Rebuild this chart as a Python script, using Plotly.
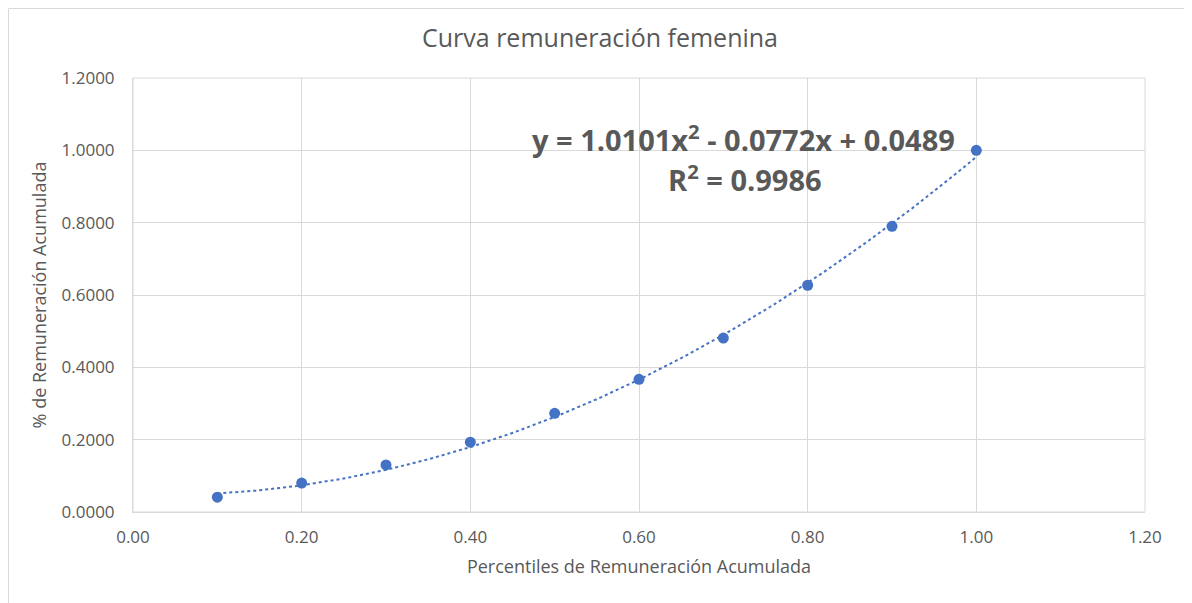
import numpy as np
import plotly.graph_objects as go

percentiles = [0.1, 0.2, 0.3, 0.4, 0.5, 0.6, 0.7, 0.8, 0.9, 1.0]
remuneracion = [0.041, 0.080, 0.130, 0.193, 0.273, 0.367, 0.481, 0.627, 0.790, 1.000]
trend_coefs = [1.0101, -0.0772, 0.0489]  # displayed polynomial trendline
x_ticks = [0.0, 0.2, 0.4, 0.6, 0.8, 1.0, 1.2]
y_ticks = [0.0, 0.2, 0.4, 0.6, 0.8, 1.0, 1.2]

blue = "#4472C4"
gray_txt = "#595959"
grid = "#D9D9D9"
font = "Open Sans"

xt = np.linspace(min(percentiles), max(percentiles), 200)
yt = np.polyval(trend_coefs, xt)

fig = go.Figure()
fig.add_trace(go.Scatter(x=xt, y=yt, mode="lines",
                         line=dict(color=blue, width=2, dash="dot"),
                         hoverinfo="skip", showlegend=False))
fig.add_trace(go.Scatter(x=percentiles, y=remuneracion, mode="markers",
                         marker=dict(color=blue, size=11),
                         showlegend=False))

fig.update_layout(
    width=1184, height=595,
    paper_bgcolor="white", plot_bgcolor="white",
    margin=dict(l=125, r=47, t=70, b=91),
    font=dict(family=font, color=gray_txt),
    title=dict(text="Curva remuneración femenina", x=0.5, xanchor="center",
               y=1 - 30 / 595, yanchor="middle",
               font=dict(size=25, color=gray_txt, family=font)),
    xaxis=dict(range=[0, 1.2], tickvals=x_ticks,
               ticktext=[f"{v:.2f}" for v in x_ticks],
               showgrid=True, gridcolor=grid, gridwidth=1,
               zeroline=False, showline=True, linecolor=grid, mirror=False,
               ticks="", ticklabelstandoff=10,
               tickfont=dict(size=17, color=gray_txt),
               title=dict(text="Percentiles de Remuneración Acumulada",
                          font=dict(size=18, color=gray_txt), standoff=12)),
    yaxis=dict(range=[0, 1.2], tickvals=y_ticks,
               ticktext=[f"{v:.4f}" for v in y_ticks],
               showgrid=True, gridcolor=grid, gridwidth=1,
               zeroline=False, showline=True, linecolor=grid,
               ticks="", ticklabelstandoff=14,
               tickfont=dict(size=17, color=gray_txt),
               title=dict(text="% de Remuneración Acumulada",
                          font=dict(size=18, color=gray_txt), standoff=10)),
)

# plot border (light gray)
fig.add_shape(type="rect", xref="paper", yref="paper", x0=0, y0=0, x1=1, y1=1,
              line=dict(color=grid, width=1), layer="below")
# outer chart border (screen px converted to plot-paper fractions)
fig.add_shape(type="rect", xref="paper", yref="paper",
              x0=(8.5 - 133) / 1012, x1=(1185 - 133) / 1012,
              y0=(512 - 610) / 434, y1=(512 - 8.5) / 434,
              line=dict(color="#D9D9D9", width=1))

fig.add_annotation(x=(743 - 133) / 843.3, y=(512 - 138) / 361.7, xref="x", yref="y",
                   text="<b>y = 1.0101x<sup>2</sup> - 0.0772x + 0.0489</b>",
                   showarrow=False, xanchor="center", yanchor="middle",
                   font=dict(size=29, color=gray_txt, family=font))
fig.add_annotation(x=(745 - 133) / 843.3, y=(512 - 178) / 361.7, xref="x", yref="y",
                   text="<b>R<sup>2</sup> = 0.9986</b>",
                   showarrow=False, xanchor="center", yanchor="middle",
                   font=dict(size=29, color=gray_txt, family=font))

fig.write_html("out.html")
